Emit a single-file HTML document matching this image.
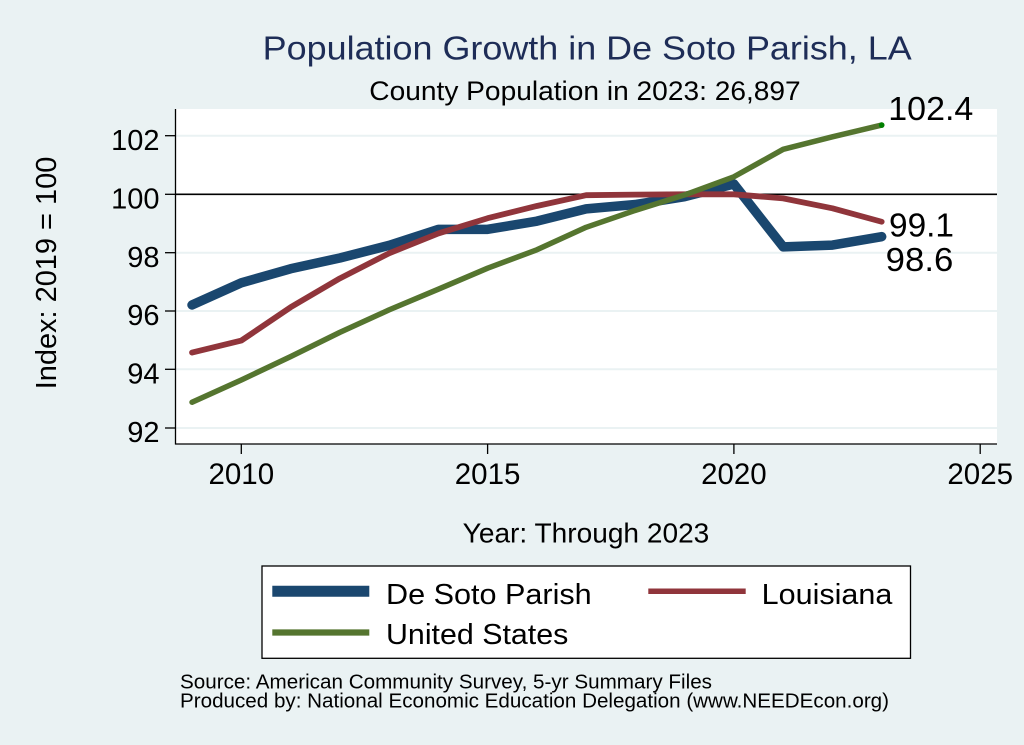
<!DOCTYPE html>
<html>
<head>
<meta charset="utf-8">
<style>
  html, body { margin:0; padding:0; background:#eaf2f3; }
  svg { display:block; }
  text { font-family: "Liberation Sans", Arial, sans-serif; }
</style>
</head>
<body>
<svg width="1024" height="745" viewBox="0 0 1024 745" xmlns="http://www.w3.org/2000/svg">
  <rect x="0" y="0" width="1024" height="745" fill="#eaf2f3"/>

  <!-- Titles -->
  <text x="262.7" y="59.3" font-size="33" fill="#1e2d57" textLength="649" lengthAdjust="spacingAndGlyphs">Population Growth in De Soto Parish, LA</text>
  <text x="369.3" y="100" font-size="27" fill="#000" textLength="431.4" lengthAdjust="spacingAndGlyphs">County Population in 2023: 26,897</text>

  <!-- Plot region -->
  <rect x="175.5" y="109" width="821.5" height="335" fill="#ffffff"/>

  <!-- Gridlines -->
  <g stroke="#eaf2f3" stroke-width="2">
    <line x1="176" y1="135.7" x2="997" y2="135.7"/>
    <line x1="176" y1="252.7" x2="997" y2="252.7"/>
    <line x1="176" y1="311" x2="997" y2="311"/>
    <line x1="176" y1="369.3" x2="997" y2="369.3"/>
    <line x1="176" y1="428" x2="997" y2="428"/>
  </g>
  <!-- Reference line at 100 -->
  <line x1="176" y1="194.3" x2="997" y2="194.3" stroke="#000" stroke-width="1.6"/>

  <!-- Axes -->
  <line x1="175.5" y1="109" x2="175.5" y2="444.5" stroke="#000" stroke-width="1.3"/>
  <line x1="175" y1="444" x2="997" y2="444" stroke="#000" stroke-width="1.3"/>

  <!-- Y ticks -->
  <g stroke="#000" stroke-width="1.3">
    <line x1="165" y1="135.7" x2="175.5" y2="135.7"/>
    <line x1="165" y1="194.3" x2="175.5" y2="194.3"/>
    <line x1="165" y1="252.7" x2="175.5" y2="252.7"/>
    <line x1="165" y1="311" x2="175.5" y2="311"/>
    <line x1="165" y1="369.3" x2="175.5" y2="369.3"/>
    <line x1="165" y1="428" x2="175.5" y2="428"/>
  </g>
  <g font-size="29" fill="#000" text-anchor="end">
    <text x="159.5" y="150">102</text>
    <text x="159.5" y="208.5">100</text>
    <text x="159.5" y="267">98</text>
    <text x="159.5" y="325.2">96</text>
    <text x="159.5" y="383.5">94</text>
    <text x="159.5" y="442">92</text>
  </g>

  <!-- X ticks -->
  <g stroke="#000" stroke-width="1.3">
    <line x1="241.3" y1="444" x2="241.3" y2="454"/>
    <line x1="487.6" y1="444" x2="487.6" y2="454"/>
    <line x1="733.9" y1="444" x2="733.9" y2="454"/>
    <line x1="980.2" y1="444" x2="980.2" y2="454"/>
  </g>
  <g font-size="29.5" fill="#000" text-anchor="middle">
    <text x="241.3" y="484">2010</text>
    <text x="487.6" y="484">2015</text>
    <text x="733.9" y="484">2020</text>
    <text x="980.2" y="484">2025</text>
  </g>

  <!-- Axis titles -->
  <text x="462.7" y="542.7" font-size="27.5" fill="#000" textLength="246.6" lengthAdjust="spacingAndGlyphs">Year: Through 2023</text>
  <text transform="translate(56,389.3) rotate(-90)" x="0" y="0" font-size="29" fill="#000" textLength="232.6" lengthAdjust="spacingAndGlyphs">Index: 2019 = 100</text>

  <!-- Series -->
  <g fill="none" stroke-linejoin="round" stroke-linecap="round">
    <polyline stroke="#1a476f" stroke-width="9.5" points="192.04,304.97 241.3,282.78 290.56,268.76 339.82,257.96 389.08,245.4 438.34,229.34 487.6,229.34 536.86,221.16 586.12,208.9 635.38,204.52 684.64,196.64 733.9,184.08 783.16,246.86 832.42,245.11 881.68,236.64"/>
    <polyline stroke="#90353b" stroke-width="5.8" points="192.04,352.56 241.3,340.59 290.56,307.3 339.82,278.4 389.08,253.28 438.34,233.43 487.6,218.24 536.86,205.98 586.12,195.18 635.38,194.6 684.64,194.3 733.9,194.3 783.16,198.39 832.42,208.32 881.68,221.75"/>
    <polyline stroke="#55752f" stroke-width="5.5" points="192.04,402.2 241.3,380.0 290.56,356.65 339.82,332.4 389.08,309.9 438.34,289.2 487.6,268.2 536.86,249.8 586.12,227.3 635.38,210.36 684.64,194.9 733.9,176.78 783.16,149.33 832.42,136.78 881.68,125.1"/>
  </g>
  <circle cx="881.68" cy="125.1" r="2.8" fill="#008000"/>

  <!-- End labels -->
  <text x="888.3" y="120" font-size="33" fill="#000" textLength="85" lengthAdjust="spacingAndGlyphs">102.4</text>
  <text x="889" y="236.7" font-size="33" fill="#000" textLength="65" lengthAdjust="spacingAndGlyphs">99.1</text>
  <text x="885.7" y="271" font-size="33" fill="#000" textLength="67.6" lengthAdjust="spacingAndGlyphs">98.6</text>

  <!-- Legend -->
  <rect x="262" y="566" width="648.5" height="92.3" fill="#ffffff" stroke="#000" stroke-width="1.3"/>
  <line x1="272.3" y1="591.2" x2="369.3" y2="591.2" stroke="#1a476f" stroke-width="11"/>
  <text x="386" y="604" font-size="29" fill="#000" textLength="205.7" lengthAdjust="spacingAndGlyphs">De Soto Parish</text>
  <line x1="648.3" y1="591.3" x2="745.7" y2="591.3" stroke="#90353b" stroke-width="5.5"/>
  <text x="761.7" y="604" font-size="29" fill="#000" textLength="130.6" lengthAdjust="spacingAndGlyphs">Louisiana</text>
  <line x1="272.3" y1="632.5" x2="369.3" y2="632.5" stroke="#55752f" stroke-width="6.3"/>
  <text x="386" y="644" font-size="29" fill="#000" textLength="182.3" lengthAdjust="spacingAndGlyphs">United States</text>

  <!-- Source note -->
  <text x="180" y="688.5" font-size="20" fill="#000" textLength="532" lengthAdjust="spacingAndGlyphs">Source: American Community Survey, 5-yr Summary Files</text>
  <text x="180" y="707.5" font-size="20" fill="#000" textLength="709" lengthAdjust="spacingAndGlyphs">Produced by: National Economic Education Delegation (www.NEEDEcon.org)</text>
</svg>
</body>
</html>
